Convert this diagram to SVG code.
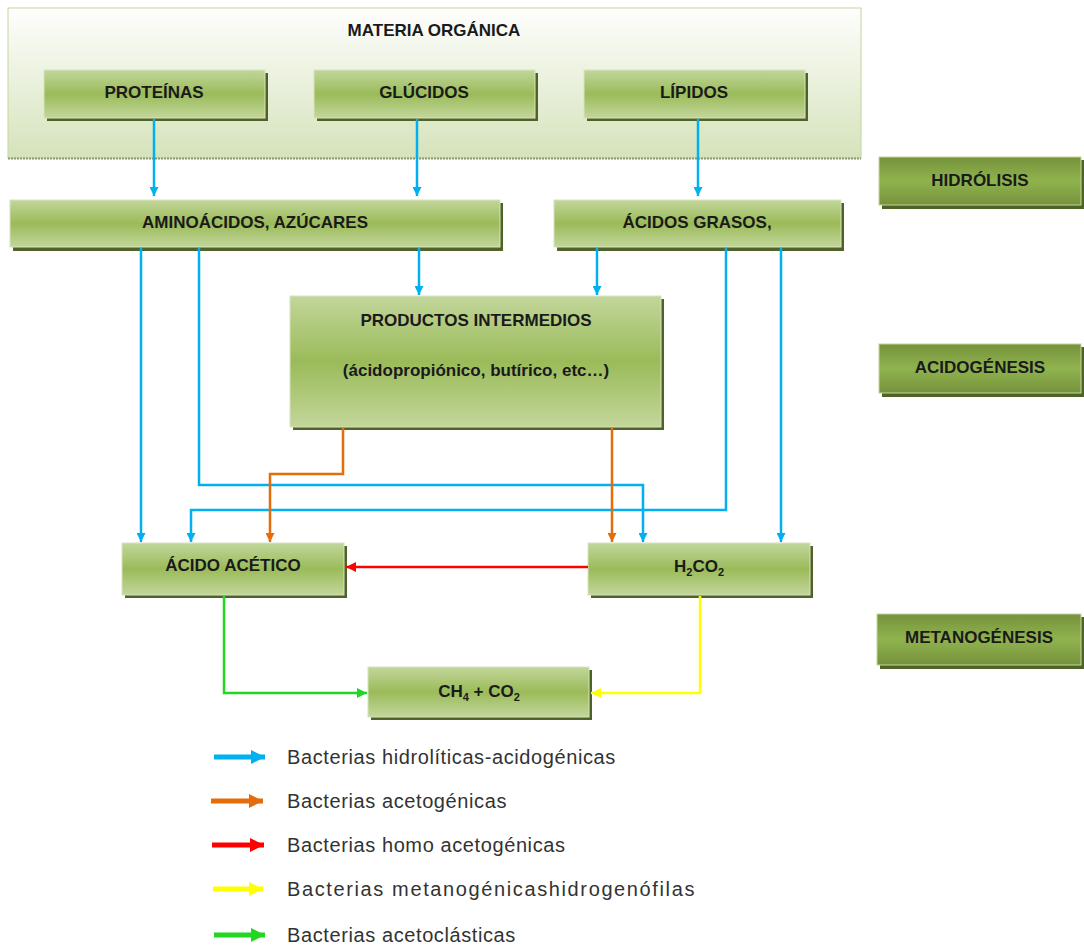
<svg xmlns="http://www.w3.org/2000/svg" width="1084" height="945" viewBox="0 0 1084 945">
<defs>
<linearGradient id="gNode" x1="0" y1="0" x2="0" y2="1">
<stop offset="0" stop-color="#c2d69b"/>
<stop offset="0.5" stop-color="#9bbb59"/>
<stop offset="1" stop-color="#c3d69b"/>
</linearGradient>
<linearGradient id="gPhase" x1="0" y1="0" x2="0" y2="1">
<stop offset="0" stop-color="#76923c"/>
<stop offset="0.5" stop-color="#8fb34e"/>
<stop offset="1" stop-color="#76923c"/>
</linearGradient>
<linearGradient id="gOuter" x1="0" y1="0" x2="0" y2="1">
<stop offset="0" stop-color="#fefefd"/>
<stop offset="1" stop-color="#d5e3bb"/>
</linearGradient>
<marker id="aBlue" viewBox="0 0 10 10" refX="10" refY="5" markerWidth="9" markerHeight="9" markerUnits="userSpaceOnUse" orient="auto"><path d="M0,0 L10,5 L0,10 z" fill="#00b0f0"/></marker>
<marker id="aOrange" viewBox="0 0 10 10" refX="10" refY="5" markerWidth="9" markerHeight="9" markerUnits="userSpaceOnUse" orient="auto"><path d="M0,0 L10,5 L0,10 z" fill="#e46c0a"/></marker>
<marker id="aRed" viewBox="0 0 10 10" refX="10" refY="5" markerWidth="10" markerHeight="10" markerUnits="userSpaceOnUse" orient="auto"><path d="M0,0 L10,5 L0,10 z" fill="#ff0000"/></marker>
<marker id="aYellow" viewBox="0 0 10 10" refX="10" refY="5" markerWidth="10" markerHeight="10" markerUnits="userSpaceOnUse" orient="auto"><path d="M0,0 L10,5 L0,10 z" fill="#ffff00"/></marker>
<marker id="aGreen" viewBox="0 0 10 10" refX="10" refY="5" markerWidth="10" markerHeight="10" markerUnits="userSpaceOnUse" orient="auto"><path d="M0,0 L10,5 L0,10 z" fill="#22d622"/></marker>
<marker id="lBlue" viewBox="0 0 10 10" refX="10" refY="5" markerWidth="15" markerHeight="14" markerUnits="userSpaceOnUse" orient="auto"><path d="M0,0 L10,5 L0,10 z" fill="#00b0f0"/></marker>
<marker id="lOrange" viewBox="0 0 10 10" refX="10" refY="5" markerWidth="15" markerHeight="14" markerUnits="userSpaceOnUse" orient="auto"><path d="M0,0 L10,5 L0,10 z" fill="#e46c0a"/></marker>
<marker id="lRed" viewBox="0 0 10 10" refX="10" refY="5" markerWidth="15" markerHeight="14" markerUnits="userSpaceOnUse" orient="auto"><path d="M0,0 L10,5 L0,10 z" fill="#ff0000"/></marker>
<marker id="lYellow" viewBox="0 0 10 10" refX="10" refY="5" markerWidth="15" markerHeight="14" markerUnits="userSpaceOnUse" orient="auto"><path d="M0,0 L10,5 L0,10 z" fill="#ffff00"/></marker>
<marker id="lGreen" viewBox="0 0 10 10" refX="10" refY="5" markerWidth="15" markerHeight="14" markerUnits="userSpaceOnUse" orient="auto"><path d="M0,0 L10,5 L0,10 z" fill="#22d622"/></marker>
</defs>
<style>
.sh{fill:#4f6228}
.nd{fill:url(#gNode);stroke:#d7e4bd;stroke-width:1}
.ph{fill:url(#gPhase);stroke:#c3d69b;stroke-width:1}
.lb{font-family:"Liberation Sans",Arial,sans-serif;font-weight:bold;font-size:17px;fill:#1a1a1a;text-anchor:middle}
.sub{font-size:11px}
.lg{font-family:"Liberation Sans",Arial,sans-serif;font-size:20px;letter-spacing:0.6px;fill:#333333}
.c{fill:none;stroke-width:2.5}
.blue{stroke:#00b0f0}
.orange{stroke:#e46c0a}
.red{stroke:#ff0000}
.yellow{stroke:#ffff00}
.green{stroke:#22d622}
.lgl{fill:none;stroke-width:5}
</style>
<rect width="1084" height="945" fill="#ffffff"/>

<g id="materia-organica">
<rect x="8" y="8" width="853" height="150" fill="url(#gOuter)" stroke="#c3d69b" stroke-width="1"/>
<line x1="8" y1="158.5" x2="861" y2="158.5" stroke="#8a9a70" stroke-width="2" stroke-dasharray="2,1"/>
<text class="lb" x="434" y="36">MATERIA ORGÁNICA</text>
</g>

<g id="proteinas">
<rect class="sh" x="47" y="73" width="221" height="48"/>
<rect class="nd" x="44" y="70" width="221" height="48"/>
<text class="lb" x="154" y="98">PROTEÍNAS</text>
</g>
<g id="glucidos">
<rect class="sh" x="317" y="73" width="221" height="48"/>
<rect class="nd" x="314" y="70" width="221" height="48"/>
<text class="lb" x="424" y="98">GLÚCIDOS</text>
</g>
<g id="lipidos">
<rect class="sh" x="587" y="73" width="221" height="48"/>
<rect class="nd" x="584" y="70" width="221" height="48"/>
<text class="lb" x="694" y="98">LÍPIDOS</text>
</g>

<g id="aminoacidos">
<rect class="sh" x="13" y="203" width="490" height="48"/>
<rect class="nd" x="10" y="200" width="490" height="47"/>
<text class="lb" x="255" y="228">AMINOÁCIDOS, AZÚCARES</text>
</g>
<g id="acidos-grasos">
<rect class="sh" x="557" y="203" width="287" height="48"/>
<rect class="nd" x="554" y="200" width="287" height="47"/>
<text class="lb" x="697" y="228">ÁCIDOS GRASOS,</text>
</g>

<g id="productos-intermedios">
<rect class="sh" x="293" y="299" width="371" height="131"/>
<rect class="nd" x="290" y="296" width="371" height="131"/>
<text class="lb" x="476" y="326">PRODUCTOS INTERMEDIOS</text>
<text class="lb" x="476" y="376">(ácidopropiónico, butírico, etc…)</text>
</g>

<g id="acido-acetico">
<rect class="sh" x="125" y="546" width="222" height="52"/>
<rect class="nd" x="122" y="543" width="222" height="52"/>
<text class="lb" x="233" y="571">ÁCIDO ACÉTICO</text>
</g>
<g id="h2co2">
<rect class="sh" x="591" y="546" width="222" height="52"/>
<rect class="nd" x="588" y="543" width="222" height="52"/>
<text class="lb" x="699" y="572">H<tspan class="sub" dy="4">2</tspan><tspan dy="-4">CO</tspan><tspan class="sub" dy="4">2</tspan></text>
</g>
<g id="ch4-co2">
<rect class="sh" x="371" y="670" width="221" height="50"/>
<rect class="nd" x="368" y="667" width="221" height="50"/>
<text class="lb" x="479" y="697">CH<tspan class="sub" dy="4">4</tspan><tspan dy="-4"> + CO</tspan><tspan class="sub" dy="4">2</tspan></text>
</g>

<g id="hidrolisis">
<rect class="sh" x="882" y="160" width="202" height="49"/>
<rect class="ph" x="879" y="157" width="202" height="48"/>
<text class="lb" x="980" y="186">HIDRÓLISIS</text>
</g>
<g id="acidogenesis">
<rect class="sh" x="882" y="347" width="202" height="50"/>
<rect class="ph" x="879" y="344" width="202" height="49"/>
<text class="lb" x="980" y="373">ACIDOGÉNESIS</text>
</g>
<g id="metanogenesis">
<rect class="sh" x="880" y="617" width="204" height="52"/>
<rect class="ph" x="877" y="614" width="204" height="51"/>
<text class="lb" x="979" y="643">METANOGÉNESIS</text>
</g>

<g id="connectors">
<path class="c blue" d="M154,119 V196" marker-end="url(#aBlue)"/>
<path class="c blue" d="M417,119 V196" marker-end="url(#aBlue)"/>
<path class="c blue" d="M698,119 V196" marker-end="url(#aBlue)"/>
<path class="c blue" d="M419,248 V295" marker-end="url(#aBlue)"/>
<path class="c blue" d="M597,248 V295" marker-end="url(#aBlue)"/>
<path class="c blue" d="M141,248 V542" marker-end="url(#aBlue)"/>
<path class="c blue" d="M199,248 V485 H643 V542" marker-end="url(#aBlue)"/>
<path class="c blue" d="M726,248 V510 H191 V542" marker-end="url(#aBlue)"/>
<path class="c blue" d="M781,248 V542" marker-end="url(#aBlue)"/>
<path class="c orange" d="M343,428 V474 H270 V542" marker-end="url(#aOrange)"/>
<path class="c orange" d="M612,428 V542" marker-end="url(#aOrange)"/>
<path class="c red" d="M588,567 H346" marker-end="url(#aRed)"/>
<path class="c green" d="M224,596 V693 H367" marker-end="url(#aGreen)"/>
<path class="c yellow" d="M700,596 V693 H591" marker-end="url(#aYellow)"/>
</g>

<g id="legend">
<path class="lgl blue" d="M214,757 H265" marker-end="url(#lBlue)"/>
<text class="lg" x="287" y="764">Bacterias hidrolíticas-acidogénicas</text>
<path class="lgl orange" d="M211,801 H263" marker-end="url(#lOrange)"/>
<text class="lg" x="287" y="808">Bacterias acetogénicas</text>
<path class="lgl red" d="M212,845 H264" marker-end="url(#lRed)"/>
<text class="lg" x="287" y="852">Bacterias homo acetogénicas</text>
<path class="lgl yellow" d="M213,889 H263" marker-end="url(#lYellow)"/>
<text class="lg" x="287" y="896" textLength="408" lengthAdjust="spacing">Bacterias metanogénicashidrogenófilas</text>
<path class="lgl green" d="M214,935 H265" marker-end="url(#lGreen)"/>
<text class="lg" x="287" y="942">Bacterias acetoclásticas</text>
</g>
</svg>
